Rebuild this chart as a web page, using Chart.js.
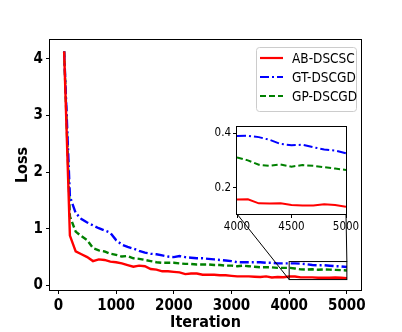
<!DOCTYPE html>
<html lang="en">
<head>
    <meta charset="UTF-8">
    <title>Loss vs Iteration</title>
    <style>
        body { margin: 0; background: #fff; }
        .wrap { position: relative; width: 402px; height: 332px; }
        #main-chart { position: absolute; left: 0; top: 0; }
        #inset-chart { position: absolute; left: 200px; top: 118px; }
    </style>
</head>
<body>
    <div class="wrap">
        <canvas id="main-chart" width="402" height="332"></canvas>
        <canvas id="inset-chart" width="165" height="118"></canvas>
    </div>

    <script src="https://cdn.jsdelivr.net/npm/chart.js"></script>
    <script>
        // iterations (x values)
        const iterations = [100, 200, 300, 400, 500, 600, 700, 800, 900, 1000,
            1100, 1200, 1300, 1400, 1500, 1600, 1700, 1800, 1900, 2000,
            2100, 2200, 2300, 2400, 2500, 2600, 2700, 2800, 2900, 3000,
            3100, 3200, 3300, 3400, 3500, 3600, 3700, 3800, 3900, 4000,
            4100, 4200, 4300, 4400, 4500, 4600, 4700, 4800, 4900, 5000];

        const abDscsc = [4.13, 0.88, 0.60, 0.55, 0.50, 0.43, 0.46, 0.45, 0.42, 0.41,
            0.39, 0.36, 0.33, 0.35, 0.34, 0.29, 0.28, 0.25, 0.25, 0.24,
            0.23, 0.20, 0.21, 0.21, 0.19, 0.19, 0.19, 0.18, 0.18, 0.17,
            0.16, 0.16, 0.16, 0.155, 0.15, 0.16, 0.14, 0.15, 0.145, 0.157,
            0.158, 0.143, 0.142, 0.143, 0.137, 0.135, 0.135, 0.14, 0.137, 0.13];

        const gtDscgd = [4.13, 1.57, 1.28, 1.17, 1.11, 1.06, 1.01, 0.97, 0.93, 0.80,
            0.72, 0.68, 0.65, 0.61, 0.58, 0.56, 0.55, 0.53, 0.51, 0.50,
            0.52, 0.50, 0.49, 0.48, 0.48, 0.47, 0.46, 0.45, 0.44, 0.43,
            0.41, 0.41, 0.41, 0.41, 0.41, 0.40, 0.40, 0.39, 0.39, 0.389,
            0.39, 0.385, 0.375, 0.36, 0.355, 0.357, 0.348, 0.34, 0.336, 0.326];

        const gpDscgd = [4.13, 1.22, 0.95, 0.87, 0.80, 0.66, 0.62, 0.60, 0.56, 0.54,
            0.51, 0.52, 0.48, 0.47, 0.45, 0.43, 0.41, 0.40, 0.40, 0.40,
            0.39, 0.38, 0.38, 0.37, 0.37, 0.37, 0.36, 0.36, 0.35, 0.35,
            0.34, 0.35, 0.34, 0.33, 0.32, 0.32, 0.32, 0.31, 0.31, 0.311,
            0.30, 0.284, 0.28, 0.285, 0.277, 0.283, 0.28, 0.275, 0.27, 0.265];

        const seriesNames = ['AB-DSCSC', 'GT-DSCGD', 'GP-DSCGD'];
        const xTicks = [0, 1000, 2000, 3000, 4000, 5000];
        const yTicks = [0, 1, 2, 3, 4];
        const insetXTicks = [4000, 4500, 5000];
        const insetYTicks = [0.2, 0.4];
        const zoomBox = { x0: 4000, x1: 5000, y0: 0.104, y1: 0.422 };

        const FONT = "'DejaVu Sans Condensed', 'DejaVu Sans', sans-serif";
        const styles = [
            { color: '#ff0000', dash: [] },
            { color: '#0000ff', dash: [9, 3, 2, 3] },
            { color: '#008000', dash: [6, 3] }
        ];
        const allSeries = [abDscsc, gtDscgd, gpDscgd];

        function makeDatasets(from, width) {
            return allSeries.map((vals, k) => ({
                label: seriesNames[k],
                data: iterations.slice(from).map((x, i) => ({ x: x, y: vals[from + i] })),
                borderColor: styles[k].color,
                borderDash: styles[k].dash,
                borderWidth: width,
                pointRadius: 0,
                tension: 0,
                fill: false
            }));
        }

        // draw a box round the plot area (matplotlib spines)
        const framePlugin = {
            id: 'frame',
            beforeDatasetsDraw(chart) {
                if (chart.canvas.id !== 'inset-chart') return;
                const a = chart.chartArea, c = chart.ctx;
                c.save();
                c.fillStyle = '#fff';
                c.fillRect(a.left, a.top, a.right - a.left, a.bottom - a.top);
                c.restore();
            },
            afterDraw(chart) {
                const a = chart.chartArea, c = chart.ctx;
                c.save();
                c.strokeStyle = '#000';
                c.lineWidth = 1;
                c.strokeRect(Math.round(a.left) - 0.5, Math.round(a.top) - 0.5,
                    Math.round(a.right - a.left) + 1, Math.round(a.bottom - a.top) + 1);
                c.restore();
            }
        };

        const insetStart = iterations.indexOf(4000);
        const insetChart = new Chart(document.getElementById('inset-chart'), {
            type: 'line',
            data: { datasets: makeDatasets(insetStart, 2) },
            options: {
                responsive: false, animation: false, devicePixelRatio: 1,
                layout: { padding: { top: 9, right: 19, left: 0, bottom: 0 } },
                plugins: { legend: { display: false }, tooltip: { enabled: false } },
                scales: {
                    x: {
                        type: 'linear', min: zoomBox.x0, max: zoomBox.x1,
                        afterBuildTicks: s => { s.ticks = insetXTicks.map(v => ({ value: v })); },
                        afterFit: s => { s.height = 22; },
                        grid: { drawOnChartArea: false, tickLength: 4, color: '#000' },
                        border: { display: false },
                        ticks: { color: '#000', padding: 2, maxRotation: 0, font: { family: FONT, size: 11.5 },
                            callback: v => String(v) }
                    },
                    y: {
                        min: zoomBox.y0, max: zoomBox.y1,
                        afterBuildTicks: s => { s.ticks = insetYTicks.map(v => ({ value: v })); },
                        afterFit: s => { s.width = 37; },
                        grid: { drawOnChartArea: false, tickLength: 4, color: '#000' },
                        border: { display: false },
                        ticks: { color: '#000', padding: 2, font: { family: FONT, size: 11.5 },
                            callback: v => v.toFixed(1) }
                    }
                }
            },
            plugins: [framePlugin]
        });

        // zoom rectangle, connector lines and the legend
        const overlayPlugin = {
            id: 'overlay',
            afterDraw(chart) {
                const c = chart.ctx, xs = chart.scales.x, ys = chart.scales.y;
                const ia = insetChart.chartArea;
                const ox = 200, oy = 118;
                const rx0 = xs.getPixelForValue(zoomBox.x0), rx1 = xs.getPixelForValue(zoomBox.x1);
                const ry0 = ys.getPixelForValue(zoomBox.y0), ry1 = ys.getPixelForValue(zoomBox.y1);
                c.save();
                c.strokeStyle = '#000';
                c.lineWidth = 1;
                c.strokeRect(rx0, ry1, rx1 - rx0, ry0 - ry1);
                c.beginPath();
                c.moveTo(ox + ia.left, oy + ia.bottom);
                c.lineTo(rx0, ry0);
                c.moveTo(ox + ia.right, oy + ia.bottom);
                c.lineTo(rx1, ry1);
                c.stroke();

                // legend
                const lx = 256, ly = 47, lw = 100, lh = 64;
                c.fillStyle = 'rgba(255,255,255,0.8)';
                c.strokeStyle = '#cccccc';
                c.beginPath();
                c.roundRect(lx + 0.5, ly + 0.5, lw, lh, 3);
                c.fill();
                c.stroke();
                c.font = '13.5px ' + FONT;
                c.textBaseline = 'middle';
                seriesNames.forEach((name, k) => {
                    const y = ly + 11 + k * 19;
                    c.strokeStyle = styles[k].color;
                    c.lineWidth = 2.2;
                    c.setLineDash(styles[k].dash);
                    c.beginPath();
                    c.moveTo(lx + 4, y);
                    c.lineTo(lx + 27, y);
                    c.stroke();
                    c.setLineDash([]);
                    c.fillStyle = '#000';
                    c.fillText(name, lx + 36, y + 1);
                });
                c.restore();
            }
        };

        const mainChart = new Chart(document.getElementById('main-chart'), {
            type: 'line',
            data: { datasets: makeDatasets(0, 2.4) },
            options: {
                responsive: false, animation: false, devicePixelRatio: 1,
                layout: { padding: { top: 40, right: 41, left: 0, bottom: 0 } },
                plugins: { legend: { display: false }, tooltip: { enabled: false } },
                scales: {
                    x: {
                        type: 'linear', min: -145, max: 5245,
                        afterBuildTicks: s => { s.ticks = xTicks.map(v => ({ value: v })); },
                        afterFit: s => { s.height = 42; },
                        grid: { drawOnChartArea: false, tickLength: 4, color: '#000' },
                        border: { display: false },
                        ticks: { color: '#000', padding: 3, maxRotation: 0,
                            font: { family: FONT, size: 15, weight: 'bold' },
                            callback: v => String(v) },
                        title: { display: true, text: 'Iteration', color: '#000', padding: 0,
                            font: { family: FONT, size: 16, weight: 'bold' } }
                    },
                    y: {
                        min: -0.08, max: 4.33,
                        afterBuildTicks: s => { s.ticks = yTicks.map(v => ({ value: v })); },
                        afterFit: s => { s.width = 50; },
                        grid: { drawOnChartArea: false, tickLength: 4, color: '#000' },
                        border: { display: false },
                        ticks: { color: '#000', padding: 3,
                            font: { family: FONT, size: 15, weight: 'bold' },
                            callback: v => String(v) },
                        title: { display: true, text: 'Loss', color: '#000', padding: { top: 13, bottom: 0 },
                            font: { family: FONT, size: 16, weight: 'bold' } }
                    }
                }
            },
            plugins: [framePlugin, overlayPlugin]
        });
    </script>
</body>
</html>
